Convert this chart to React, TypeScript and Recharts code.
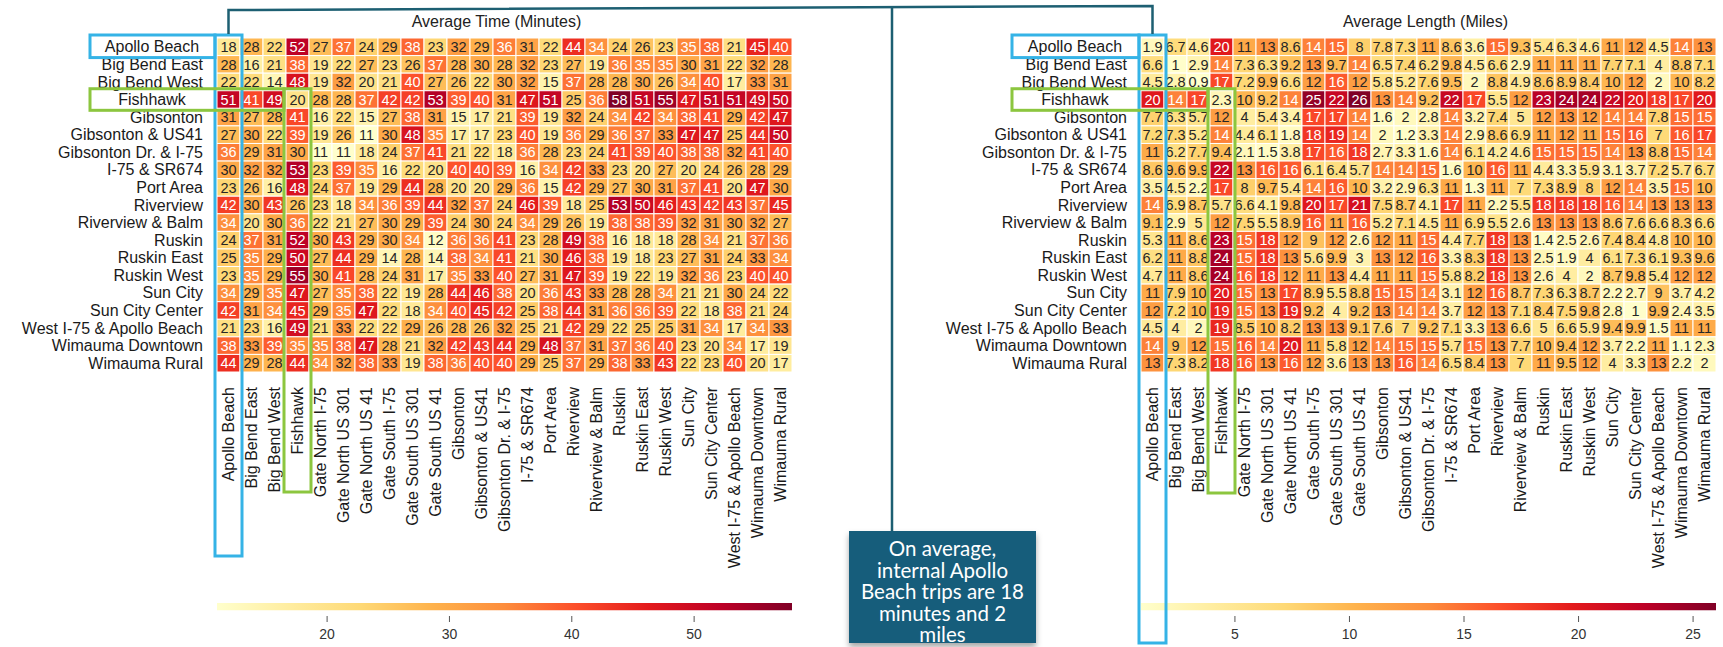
import React from "react";
import { ScatterChart, Scatter, XAxis, YAxis, BarChart, Bar } from "recharts";

const origins = [
  "Apollo Beach", "Big Bend East", "Big Bend West", "Fishhawk", "Gibsonton",
  "Gibsonton & US41", "Gibsonton Dr. & I-75", "I-75 & SR674", "Port Area", "Riverview",
  "Riverview & Balm", "Ruskin", "Ruskin East", "Ruskin West", "Sun City",
  "Sun City Center", "West I-75 & Apollo Beach", "Wimauma Downtown", "Wimauma Rural",
];

const destinations = [
  "Apollo Beach", "Big Bend East", "Big Bend West", "Fishhawk", "Gate North I-75",
  "Gate North US 301", "Gate North US 41", "Gate South I-75", "Gate South US 301", "Gate South US 41",
  "Gibsonton", "Gibsonton & US41", "Gibsonton Dr. & I-75", "I-75 & SR674", "Port Area",
  "Riverview", "Riverview & Balm", "Ruskin", "Ruskin East", "Ruskin West",
  "Sun City", "Sun City Center", "West I-75 & Apollo Beach", "Wimauma Downtown", "Wimauma Rural",
];

// one row per origin, one value per destination
const avgMinutes = [
  [18, 28, 22, 52, 27, 37, 24, 29, 38, 23, 32, 29, 36, 31, 22, 44, 34, 24, 26, 23, 35, 38, 21, 45, 40],
  [28, 16, 21, 38, 19, 22, 27, 23, 26, 37, 28, 30, 28, 32, 23, 27, 19, 36, 35, 35, 30, 31, 22, 32, 28],
  [22, 22, 14, 48, 19, 32, 20, 21, 40, 27, 26, 22, 30, 32, 15, 37, 28, 28, 30, 26, 34, 40, 17, 33, 31],
  [51, 41, 49, 20, 28, 28, 37, 42, 42, 53, 39, 40, 31, 47, 51, 25, 36, 58, 51, 55, 47, 51, 51, 49, 50],
  [31, 27, 28, 41, 16, 22, 15, 27, 38, 31, 15, 17, 21, 39, 19, 32, 24, 34, 42, 34, 38, 41, 29, 42, 47],
  [27, 30, 22, 39, 19, 26, 11, 30, 48, 35, 17, 17, 23, 40, 19, 36, 29, 36, 37, 33, 47, 47, 25, 44, 50],
  [36, 29, 31, 30, 11, 11, 18, 24, 37, 41, 21, 22, 18, 36, 28, 23, 24, 41, 39, 40, 38, 38, 32, 41, 40],
  [30, 32, 32, 53, 23, 39, 35, 16, 22, 20, 40, 40, 39, 16, 34, 42, 33, 23, 20, 27, 20, 24, 26, 28, 29],
  [23, 26, 16, 48, 24, 37, 19, 29, 44, 28, 20, 20, 29, 36, 15, 42, 29, 27, 30, 31, 37, 41, 20, 47, 30],
  [42, 30, 43, 26, 23, 18, 34, 36, 39, 44, 32, 37, 24, 46, 39, 18, 25, 53, 50, 46, 43, 42, 43, 37, 45],
  [34, 20, 30, 36, 22, 21, 27, 30, 29, 39, 24, 30, 24, 34, 29, 26, 19, 38, 38, 39, 32, 31, 30, 32, 27],
  [24, 37, 31, 52, 30, 43, 29, 30, 34, 12, 36, 36, 41, 23, 28, 49, 38, 16, 18, 18, 28, 34, 21, 37, 36],
  [25, 35, 29, 50, 27, 44, 29, 14, 28, 14, 38, 34, 41, 21, 30, 46, 38, 19, 18, 23, 27, 31, 24, 33, 34],
  [23, 35, 29, 55, 30, 41, 28, 24, 31, 17, 35, 33, 40, 27, 31, 47, 39, 19, 22, 19, 32, 36, 23, 40, 40],
  [34, 29, 35, 47, 27, 35, 38, 22, 19, 28, 44, 46, 38, 20, 36, 43, 33, 28, 28, 34, 21, 21, 30, 24, 22],
  [42, 31, 34, 45, 29, 35, 47, 22, 18, 34, 40, 45, 42, 25, 38, 44, 31, 36, 36, 39, 22, 18, 38, 21, 24],
  [21, 23, 16, 49, 21, 33, 22, 22, 29, 26, 28, 26, 32, 25, 21, 42, 29, 22, 25, 25, 31, 34, 17, 34, 33],
  [38, 33, 39, 35, 35, 38, 47, 28, 21, 32, 42, 43, 44, 29, 48, 37, 31, 37, 36, 40, 23, 20, 34, 17, 19],
  [44, 29, 28, 44, 34, 32, 38, 33, 19, 38, 36, 40, 40, 29, 25, 37, 29, 38, 33, 43, 22, 23, 40, 20, 17],
];

const avgMiles = [
  [1.9, 6.7, 4.6, 20, 11, 13, 8.6, 14, 15, 8, 7.8, 7.3, 11, 8.6, 3.6, 15, 9.3, 5.4, 6.3, 4.6, 11, 12, 4.5, 14, 13],
  [6.6, 1, 2.9, 14, 7.3, 6.3, 9.2, 13, 9.7, 14, 6.5, 7.4, 6.2, 9.8, 4.5, 6.6, 2.9, 11, 11, 11, 7.7, 7.1, 4, 8.8, 7.1],
  [4.5, 2.8, 0.9, 17, 7.2, 9.9, 6.6, 12, 16, 12, 5.8, 5.2, 7.6, 9.5, 2, 8.8, 4.9, 8.6, 8.9, 8.4, 10, 12, 2, 10, 8.2],
  [20, 14, 17, 2.3, 10, 9.2, 14, 25, 22, 26, 13, 14, 9.2, 22, 17, 5.5, 12, 23, 24, 24, 22, 20, 18, 17, 20],
  [7.7, 6.3, 5.7, 12, 4, 5.4, 3.4, 17, 17, 14, 1.6, 2, 2.8, 14, 3.2, 7.4, 5, 12, 13, 12, 14, 14, 7.8, 15, 15],
  [7.2, 7.3, 5.2, 14, 4.4, 6.1, 1.8, 18, 19, 14, 2, 1.2, 3.3, 14, 2.9, 8.6, 6.9, 11, 12, 11, 15, 16, 7, 16, 17],
  [11, 6.2, 7.7, 9.4, 2.1, 1.5, 3.8, 17, 16, 18, 2.7, 3.3, 1.6, 14, 6.1, 4.2, 4.6, 15, 15, 15, 14, 13, 8.8, 15, 14],
  [8.6, 9.6, 9.9, 22, 13, 16, 16, 6.1, 6.4, 5.7, 14, 14, 15, 1.6, 10, 16, 11, 4.4, 3.3, 5.9, 3.1, 3.7, 7.2, 5.7, 6.7],
  [3.5, 4.5, 2.2, 17, 8, 9.7, 5.4, 14, 16, 10, 3.2, 2.9, 6.3, 11, 1.3, 11, 7, 7.3, 8.9, 8, 12, 14, 3.5, 15, 10],
  [14, 6.9, 8.7, 5.7, 6.6, 4.1, 9.8, 20, 17, 21, 7.5, 8.7, 4.1, 17, 11, 2.2, 5.5, 18, 18, 18, 16, 14, 13, 13, 13],
  [9.1, 2.9, 5, 12, 7.5, 5.5, 8.9, 16, 11, 16, 5.2, 7.1, 4.5, 11, 6.9, 5.5, 2.6, 13, 13, 13, 8.6, 7.6, 6.6, 8.3, 6.6],
  [5.3, 11, 8.6, 23, 15, 18, 12, 9, 12, 2.6, 12, 11, 15, 4.4, 7.7, 18, 13, 1.4, 2.5, 2.6, 7.4, 8.4, 4.8, 10, 10],
  [6.2, 11, 8.8, 24, 15, 18, 13, 5.6, 9.9, 3, 13, 12, 16, 3.3, 8.3, 18, 13, 2.5, 1.9, 4, 6.1, 7.3, 6.1, 9.3, 9.6],
  [4.7, 11, 8.6, 24, 16, 18, 12, 11, 13, 4.4, 11, 11, 15, 5.8, 8.2, 18, 13, 2.6, 4, 2, 8.7, 9.8, 5.4, 12, 12],
  [11, 7.9, 10, 20, 15, 13, 17, 8.9, 5.5, 8.8, 15, 15, 14, 3.1, 12, 16, 8.7, 7.3, 6.3, 8.7, 2.2, 2.7, 9, 3.7, 4.2],
  [12, 7.2, 10, 19, 15, 13, 19, 9.2, 4, 9.2, 13, 14, 14, 3.7, 12, 13, 7.1, 8.4, 7.5, 9.8, 2.8, 1, 9.9, 2.4, 3.5],
  [4.5, 4, 2, 19, 8.5, 10, 8.2, 13, 13, 9.1, 7.6, 7, 9.2, 7.1, 3.3, 13, 6.6, 5, 6.6, 5.9, 9.4, 9.9, 1.5, 11, 11],
  [14, 9, 12, 15, 16, 14, 20, 11, 5.8, 12, 14, 15, 15, 5.7, 15, 13, 7.7, 10, 9.4, 12, 3.7, 2.2, 11, 1.1, 2.3],
  [13, 7.3, 8.2, 18, 16, 13, 16, 12, 3.6, 13, 13, 16, 14, 6.5, 8.4, 13, 7, 11, 9.5, 12, 4, 3.3, 13, 2.2, 2],
];

const minutesRange = [11, 58];
const milesRange = [0.9, 26];
const minutesTicks = [20, 30, 40, 50];
const milesTicks = [5, 10, 15, 20, 25];

// the two zones called out with boxes
const highlighted = ["Apollo Beach", "Fishhawk"];

const FONT = "'Liberation Sans', Arial, sans-serif";
const YLORRD = ["#ffffcc", "#ffeda0", "#fed976", "#feb24c", "#fd8d3c", "#fc4e2a", "#e31a1c", "#bd0026", "#800026"];

const GRID_TOP = 38;
const CELL_W = 23;
const GRID_H = 334;
const CELL_H = GRID_H / origins.length;
const GRID_W = CELL_W * destinations.length;
const AXIS_H = 230;
const LEFT_GRID_X = 217;
const RIGHT_CHART_X = 860;
const RIGHT_GRID_X = 1141;
const LABEL_SIZE = 16;
const VALUE_SIZE = 14.5;

const CYAN = "#35b3e6";
const GREEN = "#8cc63f";
const TEAL = "#165d7b";

function ylOrRd(t: number) {
  const k = Math.max(0, Math.min(1, t)) * (YLORRD.length - 1);
  const i = Math.min(Math.floor(k), YLORRD.length - 2);
  const f = k - i;
  const a = YLORRD[i], b = YLORRD[i + 1];
  const ch = (s: string, o: number) => parseInt(s.slice(o, o + 2), 16);
  const mix = (o: number) => Math.round(ch(a, o) + (ch(b, o) - ch(a, o)) * f);
  return `rgb(${mix(1)},${mix(3)},${mix(5)})`;
}

const ColumnTick = (props: any) => {
  const { x, y, payload } = props;
  const ty = y + 15;
  return (
    <text x={x} y={ty} transform={`rotate(-90 ${x} ${ty})`} textAnchor="end" dy="0.35em"
      fontSize={LABEL_SIZE} fontFamily={FONT} fill="#1a1a1a">
      {destinations[payload.value]}
    </text>
  );
};

function Heatmap({ values, range, width, yAxisWidth, boxCenter }: any) {
  const cells: any[] = [];
  values.forEach((row: number[], r: number) =>
    row.forEach((v, c) => cells.push({ x: c, y: r, value: v }))
  );
  const frac = (v: number) => (v - range[0]) / (range[1] - range[0]);

  const cellShape = (p: any) => (
    <rect x={p.cx - CELL_W / 2} y={p.cy - CELL_H / 2} width={CELL_W} height={CELL_H}
      fill={ylOrRd(frac(p.payload.value))} stroke="#fff" strokeWidth={1} />
  );
  const labelShape = (p: any) => (
    <text x={p.cx} y={p.cy} dy="0.36em" textAnchor="middle" fontSize={VALUE_SIZE} fontFamily={FONT}
      fill={frac(p.payload.value) > 0.485 ? "#fff" : "#262626"}>
      {String(p.payload.value)}
    </text>
  );
  const rowTick = (p: any) => {
    const name = origins[p.payload.value];
    const boxed = highlighted.includes(name);
    return (
      <text key={name} x={boxed ? boxCenter : p.x - 14} y={p.y} dy="0.35em"
        textAnchor={boxed ? "middle" : "end"} fontSize={LABEL_SIZE} fontFamily={FONT} fill="#1a1a1a">
        {name}
      </text>
    );
  };

  return (
    <ScatterChart width={width} height={GRID_TOP + GRID_H + AXIS_H}
      margin={{ top: GRID_TOP, right: width - yAxisWidth - GRID_W, left: 0, bottom: 0 }}>
      <XAxis type="number" dataKey="x" domain={[-0.5, destinations.length - 0.5]}
        ticks={destinations.map((_, i) => i)} interval={0} height={AXIS_H}
        axisLine={false} tickLine={false} tickSize={0} tickMargin={0} tick={<ColumnTick />} />
      <YAxis type="number" dataKey="y" domain={[-0.5, origins.length - 0.5]} reversed
        ticks={origins.map((_, i) => i)} interval={0} width={yAxisWidth}
        axisLine={false} tickLine={false} tickSize={0} tickMargin={0} tick={rowTick} />
      <Scatter data={cells} shape={cellShape} isAnimationActive={false} />
      <Scatter data={cells} shape={labelShape} isAnimationActive={false} />
    </ScatterChart>
  );
}

function ColorBar({ id, range, ticks, width, plotLeft }: any) {
  const BarTick = (p: any) => (
    <g>
      <line x1={p.x} x2={p.x} y1={p.y + 5} y2={p.y + 11} stroke="#555" strokeWidth={1} />
      <text x={p.x} y={p.y + 28} textAnchor="middle" fontSize={14} fontFamily={FONT} fill="#333">
        {p.payload.value}
      </text>
    </g>
  );
  return (
    <BarChart layout="vertical" width={width} height={50} data={[{ name: id, span: range }]}
      margin={{ top: 7, right: width - plotLeft - GRID_W, left: plotLeft, bottom: 0 }}
      barCategoryGap={0}>
      <defs>
        <linearGradient id={id} x1="0" y1="0" x2="1" y2="0">
          {YLORRD.map((c, i) => (
            <stop key={c} offset={i / (YLORRD.length - 1)} stopColor={c} />
          ))}
        </linearGradient>
      </defs>
      <XAxis type="number" domain={range} ticks={ticks} interval={0} height={35}
        axisLine={false} tickLine={false} tickSize={0} tickMargin={0} tick={<BarTick />} />
      <YAxis type="category" dataKey="name" hide />
      <Bar dataKey="span" fill={`url(#${id})`} barSize={8} isAnimationActive={false} />
    </BarChart>
  );
}

function Callouts() {
  const rowTop = (r: number) => GRID_TOP + r * CELL_H;
  const boxes = (gx: number, labelLeft: number, cyanBottom: number, greenBottom: number) => {
    const a = rowTop(0), f = rowTop(3);
    const c4 = gx + 3 * CELL_W;
    return (
      <g fill="none" strokeWidth={3}>
        <rect x={labelLeft} y={a - 3} width={gx - 2 - labelLeft} height={CELL_H + 5} stroke={CYAN} />
        <rect x={gx - 2} y={a - 3} width={CELL_W + 4} height={cyanBottom - a + 3} stroke={CYAN} />
        <rect x={labelLeft} y={f - 2} width={c4 - 2 - labelLeft} height={CELL_H + 4} stroke={GREEN} />
        <rect x={c4 - 2} y={f - 2} width={CELL_W + 4} height={greenBottom - f + 2} stroke={GREEN} />
      </g>
    );
  };
  const lx = LEFT_GRID_X + CELL_W / 2;
  const rx = RIGHT_GRID_X + CELL_W / 2;
  return (
    <svg width={1723} height={647} style={{ position: "absolute", left: 0, top: 0, pointerEvents: "none" }}>
      <text x={LEFT_GRID_X + GRID_W / 2 - 8} y={27} textAnchor="middle" fontSize={16} fontFamily={FONT} fill="#222">
        Average Time (Minutes)
      </text>
      <text x={RIGHT_GRID_X + GRID_W / 2 - 3} y={27} textAnchor="middle" fontSize={16} fontFamily={FONT} fill="#222">
        Average Length (Miles)
      </text>
      {boxes(LEFT_GRID_X, 90, 556, 492)}
      {boxes(RIGHT_GRID_X, 1012, 643, 493)}
      <g stroke="#1d5f72" strokeWidth={2.5} fill="none">
        <polyline points={`${lx},34 ${lx},10 ${rx},6 ${rx},34`} />
        <line x1={892} y1={8} x2={892} y2={531} />
      </g>
    </svg>
  );
}

export default function App() {
  return (
    <div style={{ position: "absolute", left: 0, top: 0, width: 1723, height: 647, background: "#fff", overflow: "hidden" }}>
      <div style={{ position: "absolute", left: 0, top: 0 }}>
        <Heatmap values={avgMinutes} range={minutesRange} width={800} yAxisWidth={LEFT_GRID_X} boxCenter={152} />
      </div>
      <div style={{ position: "absolute", left: RIGHT_CHART_X, top: 0 }}>
        <Heatmap values={avgMiles} range={milesRange} width={863} yAxisWidth={RIGHT_GRID_X - RIGHT_CHART_X} boxCenter={215} />
      </div>
      <div style={{ position: "absolute", left: 0, top: 596 }}>
        <ColorBar id="minutesScale" range={minutesRange} ticks={minutesTicks} width={800} plotLeft={LEFT_GRID_X} />
      </div>
      <div style={{ position: "absolute", left: RIGHT_CHART_X, top: 596 }}>
        <ColorBar id="milesScale" range={milesRange} ticks={milesTicks} width={863} plotLeft={RIGHT_GRID_X - RIGHT_CHART_X} />
      </div>
      <Callouts />
      <div style={{
        position: "absolute", left: 849, top: 531, width: 187, height: 112, boxSizing: "border-box",
        paddingTop: 7, background: TEAL, boxShadow: "0 4px 6px rgba(0,0,0,0.35)", color: "#fff",
        fontFamily: "Lato, 'Open Sans', sans-serif", fontSize: 20.5, lineHeight: "21.5px", textAlign: "center",
      }}>
        <div>On average,</div>
        <div>internal Apollo</div>
        <div>Beach trips are 18</div>
        <div>minutes and 2</div>
        <div>miles</div>
      </div>
    </div>
  );
}
